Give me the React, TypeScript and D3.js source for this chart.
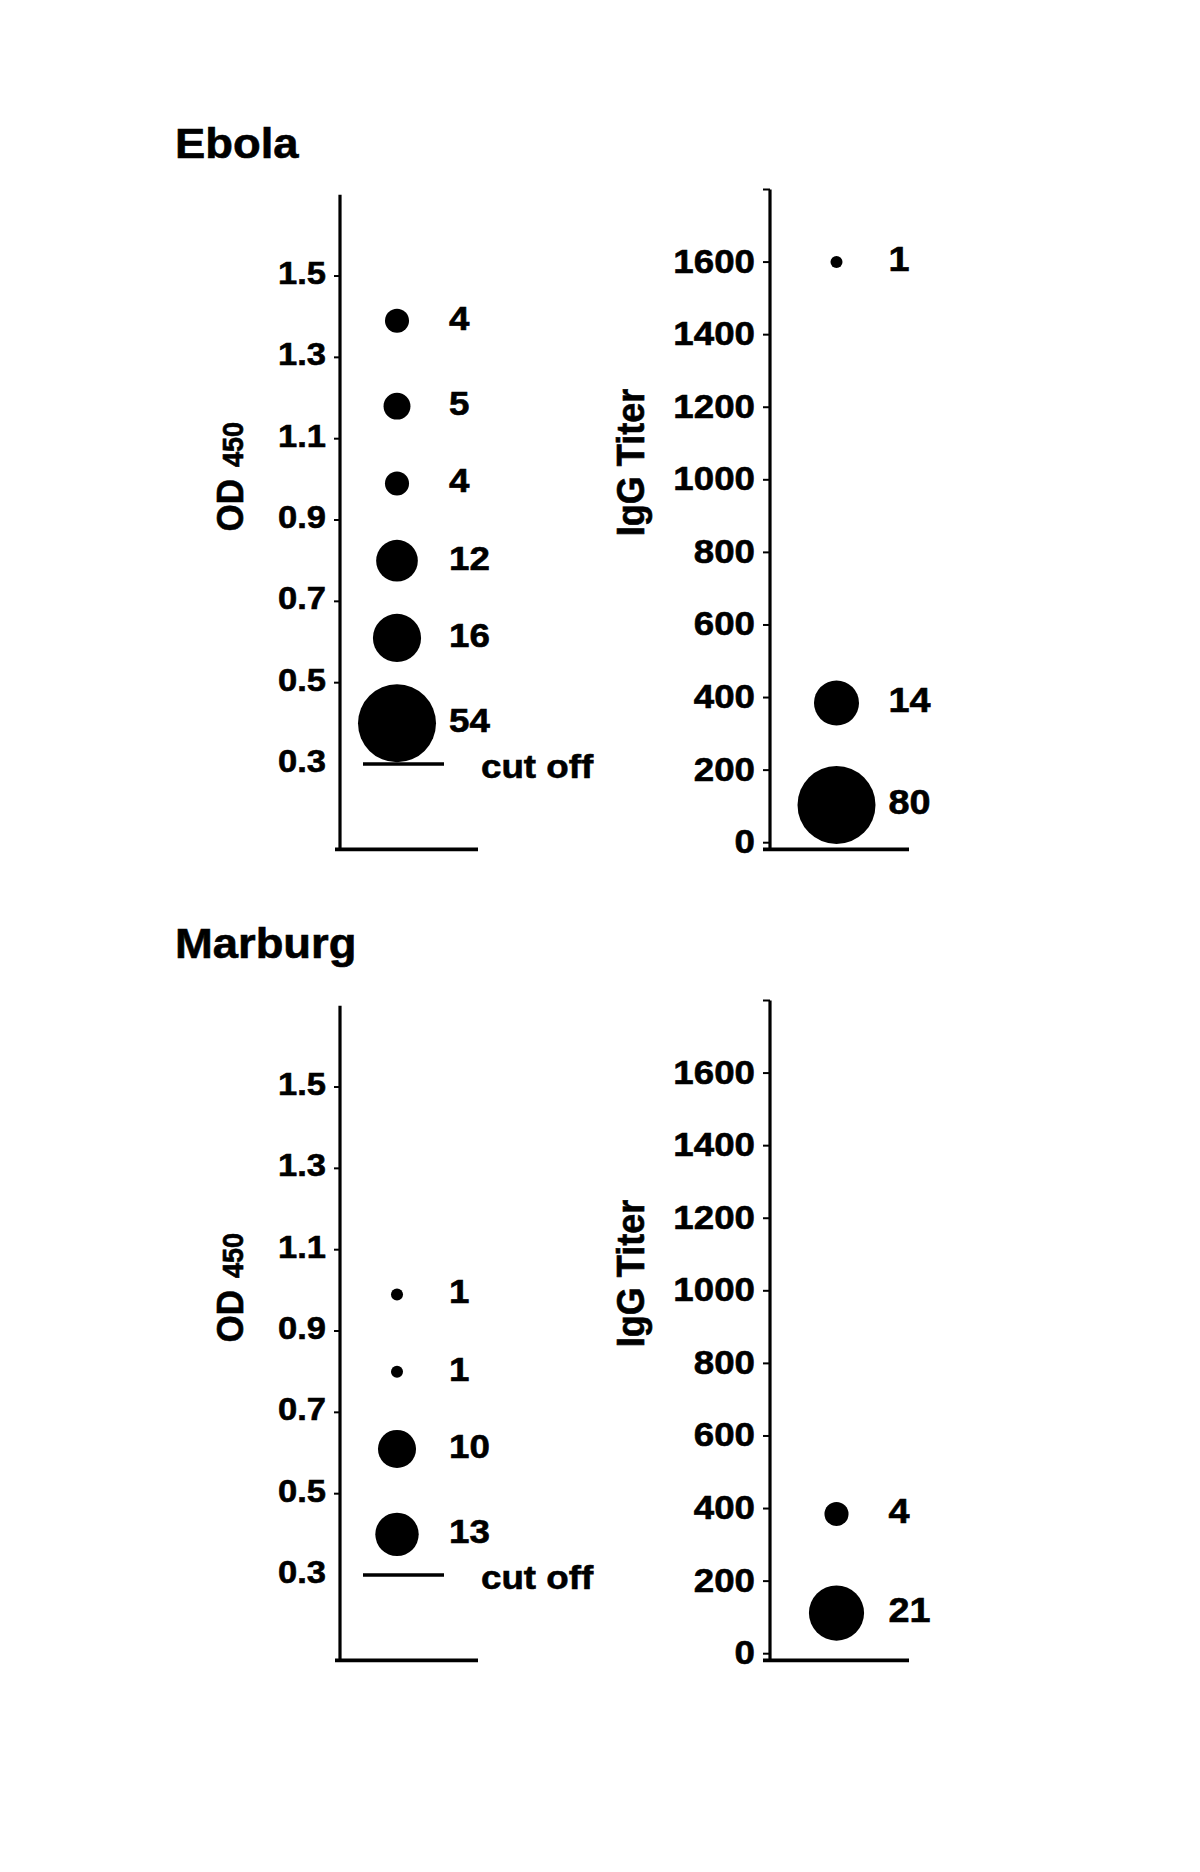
import React from 'react';
import * as d3 from 'd3';

// ---- data ----
const panelTitles = ['Ebola', 'Marburg'];
const odTicks = [0.3, 0.5, 0.7, 0.9, 1.1, 1.3, 1.5];
const iggTicks = [0, 200, 400, 600, 800, 1000, 1200, 1400, 1600];
const cutoffValue = 0.3;

const ebolaOdValues = [1.39, 1.18, 0.99, 0.8, 0.61, 0.4];
const ebolaOdCounts = [4, 5, 4, 12, 16, 54];
const ebolaIggValues = [1600, 385, 104];
const ebolaIggCounts = [1, 14, 80];

const marburgOdValues = [0.99, 0.8, 0.61, 0.4];
const marburgOdCounts = [1, 1, 10, 13];
const marburgIggValues = [385, 112];
const marburgIggCounts = [4, 21];

// ---- styling ----
const FONT = '"Liberation Sans", Arial, Helvetica, sans-serif';
const SX = 1.08; // reference text is slightly wide

const rScale = d3.scaleSqrt().domain([0, 42]).range([0, 39]).clamp(true);

function T({ x, y, size, anchor = 'start', rotate = 0, children }: any) {
  return (
    <text
      transform={`translate(${x},${y}) scale(${SX},1)${rotate ? ` rotate(${rotate})` : ''}`}
      fontFamily={FONT}
      fontWeight="bold"
      fontSize={size}
      textAnchor={anchor}
      fill="#000"
      stroke="#000"
      strokeWidth={0.6}
    >
      {children}
    </text>
  );
}

function OdPanel({ top, values, counts }: any) {
  const y = d3.scaleLinear().domain([0.09, 1.7]).range([top + 849.4, top + 194.7]);
  const ax = 340;
  const cx = 397;
  const fmt = d3.format('.1f');
  return (
    <g>
      <line x1={ax} x2={ax} y1={y(1.7)} y2={y(0.09)} stroke="#000" strokeWidth={3.2} />
      <line x1={335} x2={478} y1={y(0.09)} y2={y(0.09)} stroke="#000" strokeWidth={3.8} />
      {odTicks.map((t) => (
        <g key={t}>
          {t !== cutoffValue && (
            <line x1={ax - 6} x2={ax} y1={y(t)} y2={y(t)} stroke="#000" strokeWidth={2} />
          )}
          <T x={326} y={y(t) + 8} size={32} anchor="end">{fmt(t)}</T>
        </g>
      ))}
      <line x1={363} x2={444} y1={y(cutoffValue)} y2={y(cutoffValue)} stroke="#000" strokeWidth={3.6} />
      <T x={481} y={y(cutoffValue) + 14} size={34}>cut off</T>
      {values.map((v: number, i: number) => (
        <g key={i}>
          <circle cx={cx} cy={y(v)} r={rScale(counts[i])} fill="#000" />
          <T x={cx + 52} y={y(v) + 9} size={34}>{counts[i]}</T>
        </g>
      ))}
      <text
        transform={`translate(243,${y(0.09) - 318}) scale(${SX},1) rotate(-90)`}
        fontFamily={FONT}
        fontWeight="bold"
        fill="#000"
        stroke="#000"
        strokeWidth={0.6}
        textAnchor="start"
      >
        <tspan fontSize={35}>OD</tspan>
        <tspan fontSize={27} dx={12}>450</tspan>
      </text>
    </g>
  );
}

function IggPanel({ top, values, counts }: any) {
  const y = d3.scaleLinear().domain([0, 1800]).range([top + 842.7, top + 189.5]);
  const ax = 770;
  const cx = 836.5;
  const baseY = top + 849.3;
  const allTicks = [...iggTicks, 1800];
  return (
    <g>
      <line x1={ax} x2={ax} y1={y(1800)} y2={baseY} stroke="#000" strokeWidth={3.2} />
      <line x1={763} x2={909} y1={baseY} y2={baseY} stroke="#000" strokeWidth={3.8} />
      {allTicks.map((t) => (
        <line key={t} x1={ax - 7} x2={ax} y1={y(t)} y2={y(t)} stroke="#000" strokeWidth={2} />
      ))}
      {iggTicks.map((t) => (
        <T key={t} x={755} y={y(t) + 10.5} size={34} anchor="end">{String(t)}</T>
      ))}
      {values.map((v: number, i: number) => (
        <g key={i}>
          <circle cx={cx} cy={y(v)} r={rScale(counts[i])} fill="#000" />
          <T x={cx + 52} y={y(v) + 9} size={35}>{counts[i]}</T>
        </g>
      ))}
      <T x={644} y={top + 462.5} size={36} anchor="middle" rotate={-90}>IgG Titer</T>
    </g>
  );
}

export default function App() {
  const tops = [0, 811];
  const titleY = [158.3, 958.3];
  return (
    <svg
      width={1200}
      height={1872}
      viewBox="0 0 1200 1872"
      style={{ position: 'absolute', left: 0, top: 0, background: '#fff' }}
    >
      <rect width={1200} height={1872} fill="#fff" />
      {panelTitles.map((t, i) => (
        <T key={t} x={175} y={titleY[i]} size={42}>{t}</T>
      ))}
      <OdPanel top={tops[0]} values={ebolaOdValues} counts={ebolaOdCounts} />
      <IggPanel top={tops[0]} values={ebolaIggValues} counts={ebolaIggCounts} />
      <OdPanel top={tops[1]} values={marburgOdValues} counts={marburgOdCounts} />
      <IggPanel top={tops[1]} values={marburgIggValues} counts={marburgIggCounts} />
    </svg>
  );
}
